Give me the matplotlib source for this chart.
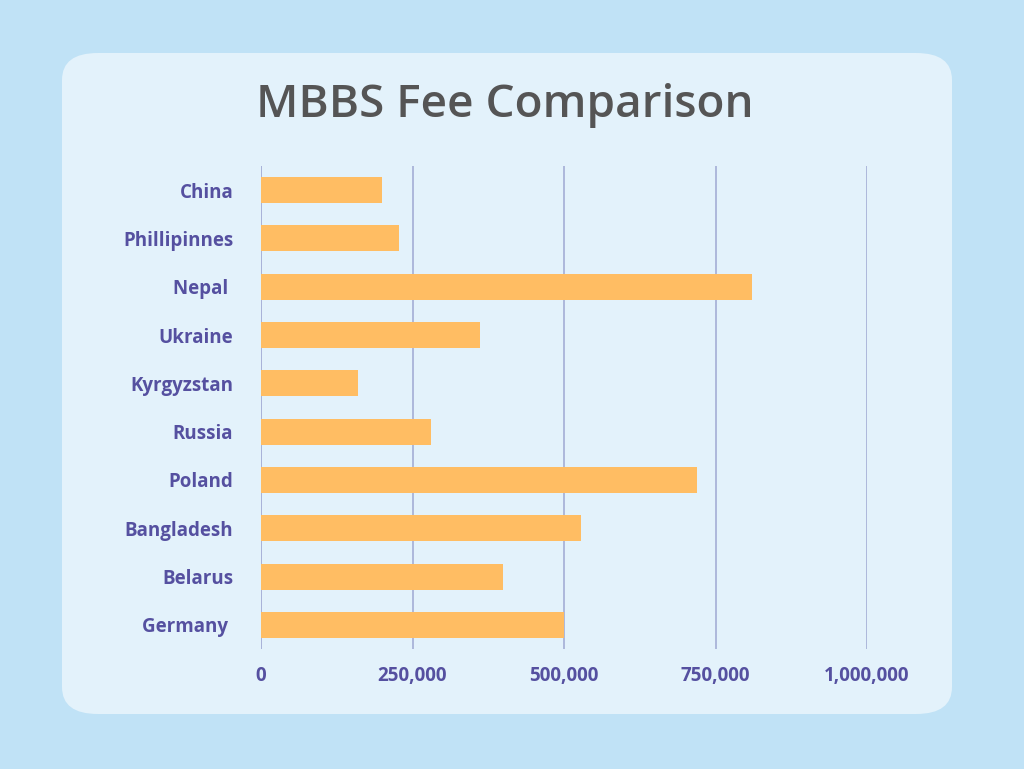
import matplotlib.pyplot as plt
from matplotlib.patches import FancyBboxPatch

countries = ['China', 'Phillipinnes', 'Nepal ', 'Ukraine', 'Kyrgyzstan', 'Russia',
             'Poland', 'Bangladesh', 'Belarus', 'Germany ']
fees = [200000, 228000, 810000, 361000, 160000, 280000, 720000, 528000, 400000, 500000]
xticks = [0, 250000, 500000, 750000, 1000000]
xtick_labels = ['0', '250,000', '500,000', '750,000', '1,000,000']

W, H = 1024, 769
fig = plt.figure(figsize=(W / 100, H / 100), dpi=100)
fig.patch.set_facecolor('#c0e2f6')

# rounded inner panel, kept behind the axes
panel = FancyBboxPatch((62 / W, 1 - 714 / H), (952 - 62) / W, (714 - 53) / H,
                       boxstyle='round,pad=0,rounding_size=0.035',
                       transform=fig.transFigure, facecolor='#e3f2fb',
                       edgecolor='none', zorder=-5)
fig.patches.append(panel)

fig.text(505 / W, 1 - 105 / H, 'MBBS Fee Comparison', ha='center', va='center',
         fontsize=33, color='#555555', fontweight='semibold', family='Open Sans')

ax = fig.add_axes([261 / W, 1 - 649 / H, (867 - 261) / W, (649 - 166) / H])
ax.set_zorder(5)
ax.set_facecolor('none')
y = list(range(len(countries)))
ax.barh(y, fees, height=0.54, color='#ffbd63', zorder=3)
ax.set_ylim(len(countries) - 0.5, -0.5)
ax.set_xlim(0, 1000000)
ax.set_yticks(y)
ax.set_yticklabels(countries)
ax.set_xticks(xticks)
ax.set_xticklabels(xtick_labels)
ax.grid(axis='x', color='#a9b3d8', linewidth=1.3, zorder=1)
ax.axvline(0, color='#a9b3d8', linewidth=1.3, zorder=1)
for s in ax.spines.values():
    s.set_visible(False)
ax.tick_params(length=0, labelsize=13.5, labelcolor='#5550a0', pad=12)
ax.tick_params(axis='y', pad=20)
for lab in ax.get_xticklabels() + ax.get_yticklabels():
    lab.set_fontweight('bold')
    lab.set_family('Open Sans')

fig.savefig('out.png', dpi=100, facecolor=fig.get_facecolor())
